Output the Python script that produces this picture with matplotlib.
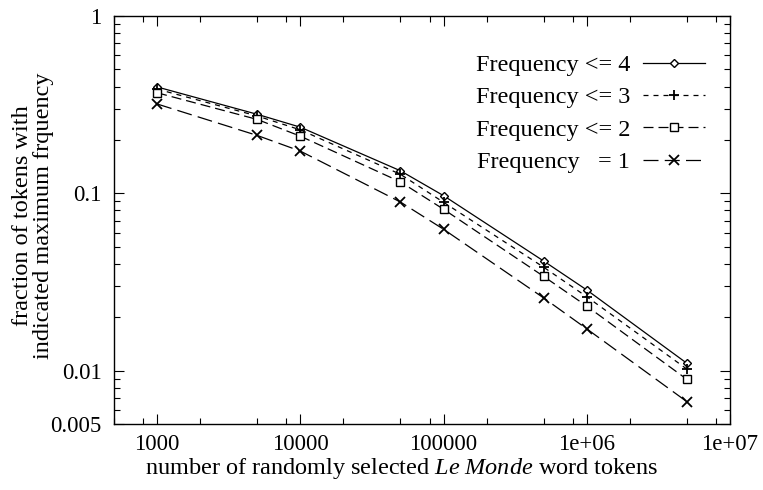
import matplotlib
matplotlib.use("Agg")
import matplotlib.pyplot as plt
from matplotlib.ticker import FixedLocator, NullFormatter, FixedFormatter, LogLocator

plt.rcParams['font.family'] = ['Liberation Serif', 'DejaVu Serif']
plt.rcParams['mathtext.fontset'] = 'custom'
plt.rcParams['mathtext.it'] = 'Liberation Serif:italic'
plt.rcParams['mathtext.rm'] = 'Liberation Serif'

x_tokens = [1000, 5000, 10000, 50000, 100000, 500000, 1000000, 5000000]
freq_le4 = [0.398, 0.279, 0.236, 0.134, 0.097, 0.0415, 0.0285, 0.0110]
freq_le3 = [0.387, 0.273, 0.228, 0.128, 0.089, 0.0383, 0.0261, 0.0102]
freq_le2 = [0.369, 0.261, 0.210, 0.116, 0.0813, 0.0340, 0.0231, 0.00893]
freq_eq1 = [0.319, 0.212, 0.173, 0.0893, 0.0627, 0.0257, 0.0172, 0.00668]

labels = ["Frequency <= 4", "Frequency <= 3", "Frequency <= 2", "Frequency   = 1"]
xtick_vals = [1000, 10000, 100000, 1000000, 10000000]
xtick_labels = ["1000", "10000", "100000", "1e+06", "1e+07"]
ytick_vals = [1, 0.1, 0.01, 0.005]
ytick_labels = ["1", "0.1", "0.01", "0.005"]

FS = 17.5
TFS = 16.5
W, H = 763, 490
fig = plt.figure(figsize=(W/100, H/100), dpi=100)
ax = fig.add_axes([114/W, 1-424/H, (730-114)/W, (424-16)/H])

lw = 0.9
styles = [
    dict(linestyle='-', marker='D', markersize=4.5, markerfacecolor='white'),
    dict(linestyle=(0, (4, 4)), marker='+', markersize=7, markeredgewidth=1.3),
    dict(linestyle=(0, (8, 4)), marker='s', markersize=5.5, markerfacecolor='white'),
    dict(linestyle=(0, (12, 5)), marker='x', markersize=6.5, markeredgewidth=1.3),
]
series = [freq_le4, freq_le3, freq_le2, freq_eq1]
lines = []
for ys, st, lab in zip(series, styles, labels):
    l, = ax.plot(x_tokens, ys, color='black', linewidth=lw, markeredgecolor='black', label=lab, **st)
    lines.append(l)

ax.set_xscale('log')
ax.set_yscale('log')
ax.set_xlim(500, 1e7)
ax.set_ylim(0.005, 1)

ax.xaxis.set_major_locator(FixedLocator(xtick_vals))
ax.xaxis.set_major_formatter(FixedFormatter(xtick_labels))
ax.xaxis.set_minor_locator(LogLocator(base=10, subs=[2, 5, 8]))
ax.xaxis.set_minor_formatter(NullFormatter())
ax.yaxis.set_major_locator(FixedLocator(ytick_vals))
ax.yaxis.set_major_formatter(FixedFormatter(ytick_labels))
ax.yaxis.set_minor_locator(LogLocator(base=10, subs=[2, 3, 4, 5, 6, 7, 8, 9]))
ax.yaxis.set_minor_formatter(NullFormatter())

ax.tick_params(which='both', direction='in', top=True, right=True, width=0.8, labelsize=TFS)
ax.tick_params(which='major', length=7)
ax.tick_params(axis='y', which='major', pad=9)
ax.tick_params(axis='x', which='major', pad=7)
ax.tick_params(which='minor', length=4)
for s in ax.spines.values():
    s.set_linewidth(1.0)

ax.set_xlabel("number of randomly selected $\\it{Le\\ Monde}$ word tokens", fontsize=FS)
ax.xaxis.label.set_va('center')
ax.xaxis.set_label_coords((402-114)/616, -(468-424)/408)
ax.set_ylabel("fraction of tokens with\nindicated maximum frquency", fontsize=FS, linespacing=1.0)
ax.yaxis.label.set_va('center')
ax.yaxis.set_label_coords((33.5-114)/616, 0.51)

leg = fig.legend(handles=lines, loc='upper right', bbox_to_anchor=(705/W, 1-54/H), frameon=False,
                 fontsize=FS, markerfirst=False, handlelength=2.55, handletextpad=0.53,
                 labelspacing=0.43, borderaxespad=0.0, borderpad=0.0)
for t in leg.get_texts():
    t.set_ha('right')

fig.savefig("out.png", dpi=100)
